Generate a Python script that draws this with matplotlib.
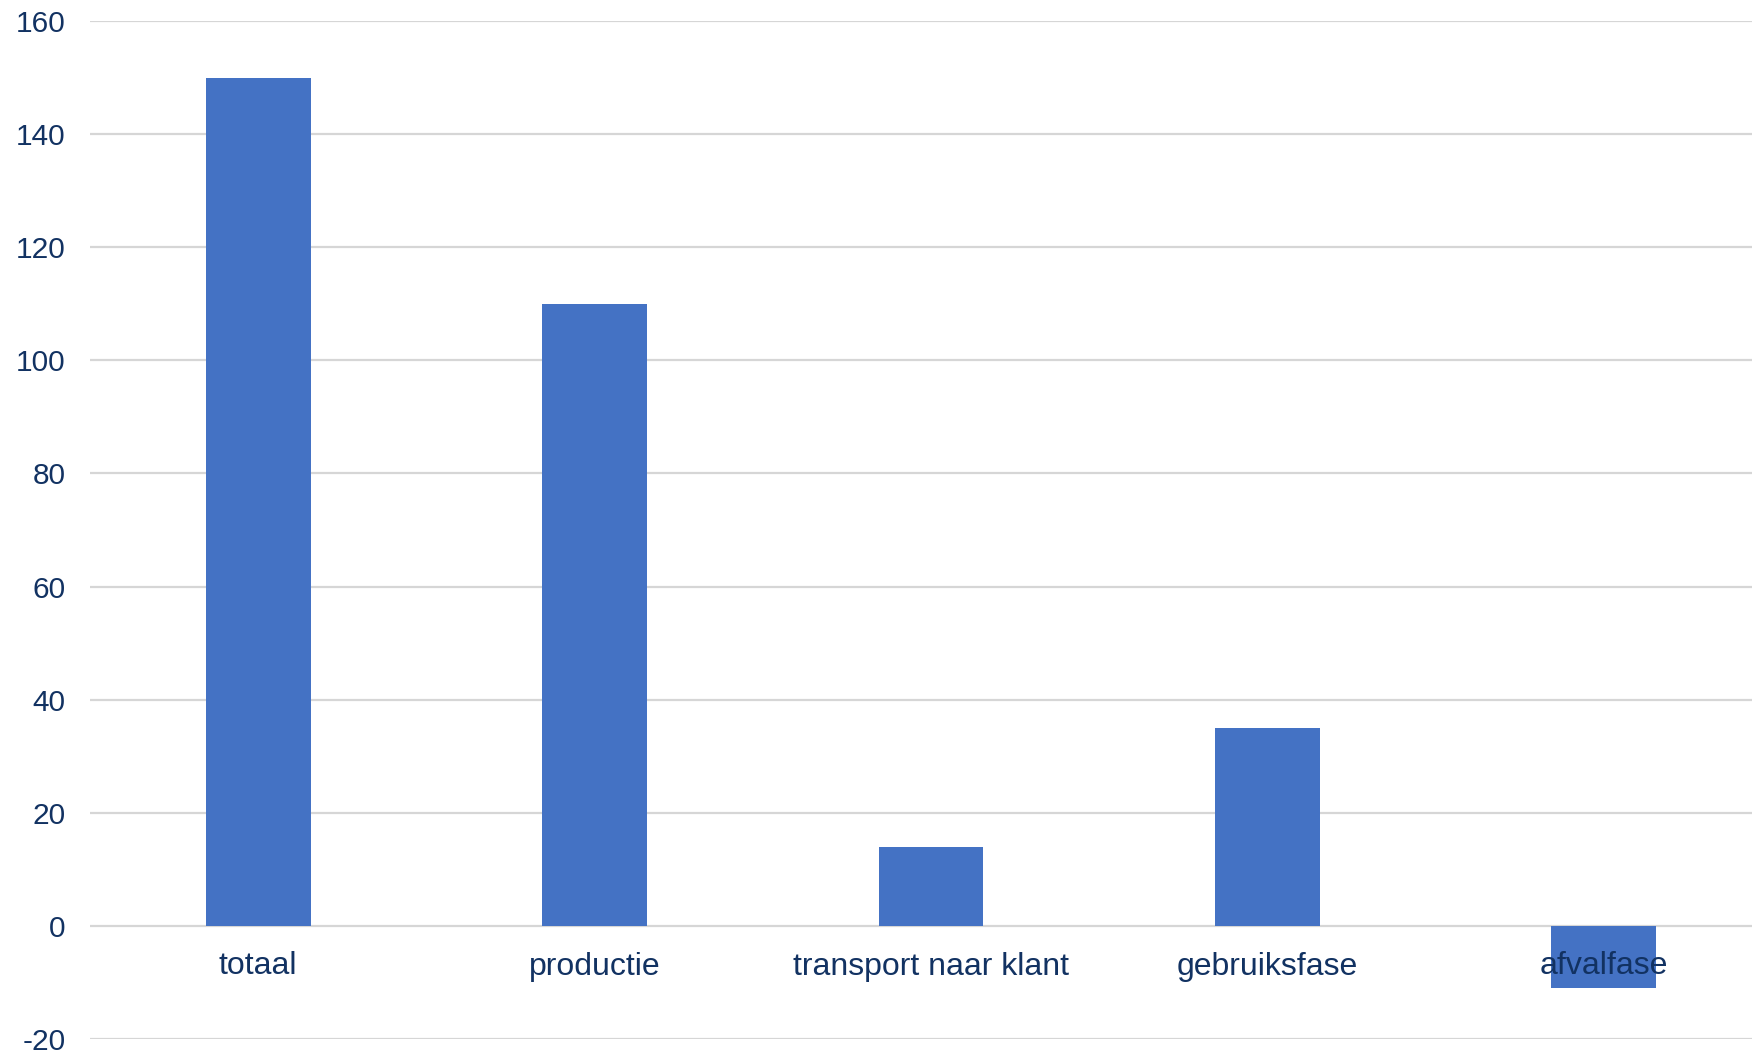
import matplotlib
matplotlib.use("Agg")
import matplotlib.pyplot as plt

categories = ["totaal", "productie", "transport naar klant", "gebruiksfase", "afvalfase"]
values = [150, 110, 14, 35, -11]
y_ticks = [-20, 0, 20, 40, 60, 80, 100, 120, 140, 160]

plt.rcParams['font.family'] = ['Liberation Sans', 'DejaVu Sans']
text_color = '#123262'
bar_color = '#4472C4'
grid_color = '#d6d6d6'

fig = plt.figure(figsize=(17.52, 10.55), dpi=100)
ax = fig.add_axes([90 / 1752, 16 / 1055, 1682 / 1752, 1018 / 1055])

x = list(range(len(categories)))
ax.bar(x, values, width=0.312, color=bar_color, zorder=2)

ax.set_xlim(-0.5, len(categories) - 0.5)
ax.set_ylim(-20, 160)
ax.set_yticks(y_ticks)
ax.set_yticklabels([str(t) for t in y_ticks])
ax.tick_params(axis='y', length=0, pad=17.5, labelsize=21.5, labelcolor=text_color)
ax.set_xticks([])
for s in ax.spines.values():
    s.set_visible(False)

ax.set_axisbelow(True)
ax.yaxis.grid(True, color=grid_color, linewidth=1.6)

for xi, name in zip(x, categories):
    ax.annotate(name, xy=(xi, 0), xytext=(0, -35), textcoords='offset points',
                ha='center', va='baseline', fontsize=23, color=text_color, zorder=5)

fig.savefig("out.png", dpi=100)
